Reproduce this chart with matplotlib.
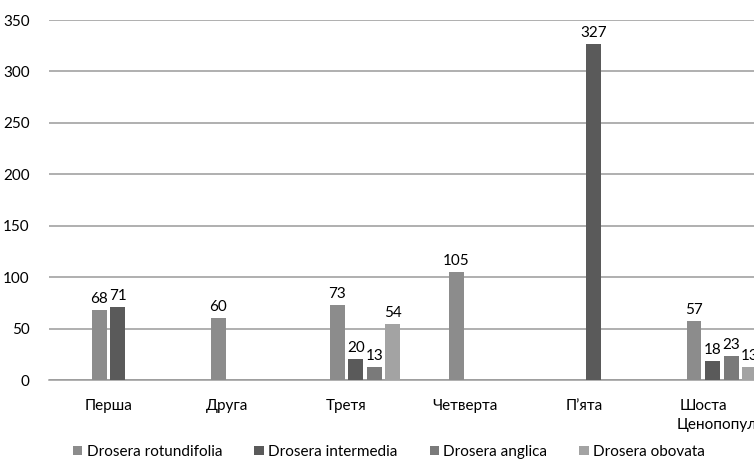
import matplotlib
matplotlib.use('Agg')
import matplotlib.pyplot as plt
from matplotlib.patches import Patch
import numpy as np

plt.rcParams['font.family'] = ['Lato', 'DejaVu Sans']

# population labels and counts per species
populations = ['Перша', 'Друга', 'Третя', 'Четверта', 'П’ята', 'Шоста']
species = ['Drosera rotundifolia', 'Drosera intermedia', 'Drosera anglica', 'Drosera obovata']
rotundifolia = [68, 60, 73, 105, None, 57]
intermedia = [71, None, 20, None, 327, 18]
anglica = [None, None, 13, None, None, 23]
obovata = [None, None, 54, None, None, 13]
series = [rotundifolia, intermedia, anglica, obovata]
colors = ['#8c8c8c', '#5a5a5a', '#7a7a7a', '#a3a3a3']

FS = 11

fig = plt.figure(figsize=(7.54, 4.63), dpi=100)
W, H = 754, 463
# plot area runs past the right edge of the canvas
ax = fig.add_axes([49 / W, 83 / H, 713.5 / W, 360 / H])

x = np.arange(len(populations))
width = 0.126
step = 0.156
offset0 = -0.076
for i, (vals, col) in enumerate(zip(series, colors)):
    for xi, v in zip(x, vals):
        if v is None:
            continue
        bx = xi + offset0 + i * step
        ax.bar(bx, v, width=width, color=col, zorder=3)
        ax.text(bx, v + 4, str(v), ha='center', va='bottom', fontsize=FS, color='#000000', zorder=4)

ax.set_xlim(-0.5, len(populations) - 0.5)
ax.set_ylim(0, 350)
ax.set_yticks(range(0, 351, 50))
ax.set_xticks(x)
ax.set_xticklabels(populations)
ax.tick_params(axis='both', length=0, labelsize=FS, colors='#000000')
ax.tick_params(axis='x', pad=14)
ax.tick_params(axis='y', pad=14)
ax.grid(axis='y', color='#9a9a9a', linewidth=1.1, zorder=0)
for side in ['top', 'right', 'left']:
    ax.spines[side].set_visible(False)
ax.spines['bottom'].set_color('#9a9a9a')
ax.spines['bottom'].set_linewidth(1.1)
ax.spines['bottom'].set_zorder(2)

fig.text(677 / W, 1 - 425 / H, 'Ценопопуляція', ha='left', va='center', fontsize=FS)

handles = [Patch(facecolor=c, label=s) for c, s in zip(colors, species)]
fig.legend(handles=handles, loc='center', bbox_to_anchor=(389 / W, 11 / H), ncol=4,
           frameon=False, fontsize=FS, handlelength=0.6, handleheight=0.6,
           handletextpad=0.3, columnspacing=2.1, borderaxespad=0)

fig.savefig('out.png', dpi=100, facecolor='white')
